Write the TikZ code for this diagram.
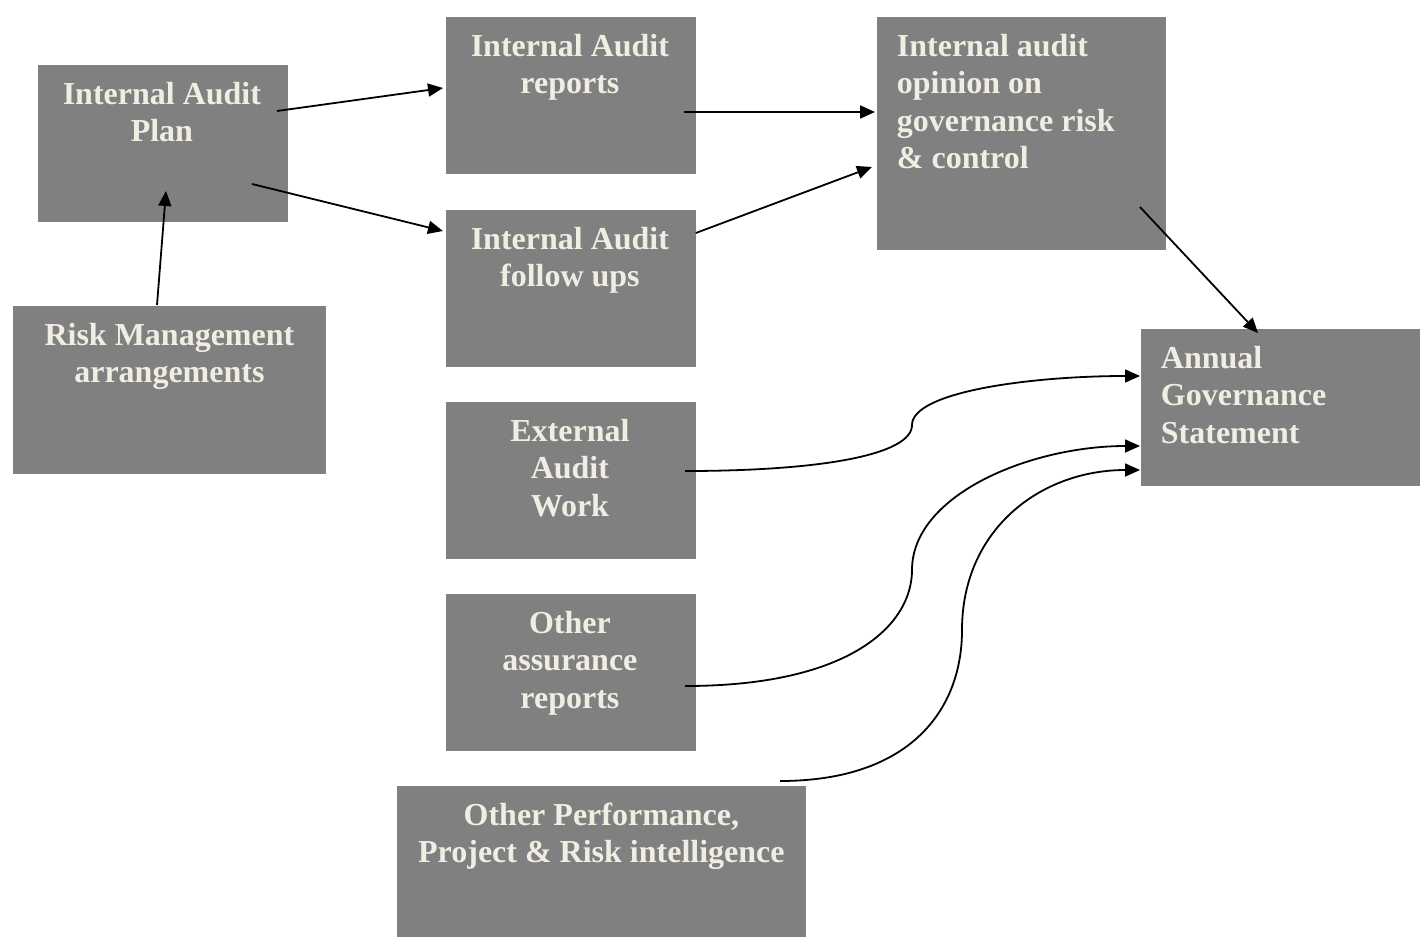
\documentclass[tikz,border=0pt]{standalone}
\usepackage{fontspec}
\setmainfont{Liberation Serif}
\usetikzlibrary{arrows.meta, calc}
\definecolor{cbox}{HTML}{808080}
\definecolor{ctext}{HTML}{F0EDE2}
\tikzset{
  every picture/.style={line width=1.8pt},
  box/.style={fill=cbox, inner sep=0pt, anchor=north west},
  label/.style={text=ctext, font=\bfseries\fontsize{32}{37.5}\selectfont, inner sep=0pt},
  arrow/.style={-{Triangle[length=15pt, width=13pt]}, draw=black, line width=1.8pt},
}

\begin{document}
\begin{tikzpicture}[x=1pt, y=-1pt,
    mid/.style={box, minimum width=250pt, minimum height=157pt}]
  \useasboundingbox (0,0) rectangle (1420,936);
  % boxes
  \node[box, minimum width=250pt, minimum height=157pt] (plan) at (37,64) {};
  \node[box, minimum width=313pt, minimum height=168pt] (risk) at (12,305) {};
  \foreach \n/\y in {reports/16, followups/209, external/401, assurance/593}
    \node[mid] (\n) at (445,\y) {};
  \node[box, minimum width=409pt, minimum height=151pt] (perf) at (396,785) {};
  \node[box, minimum width=289pt, minimum height=233pt] (opinion) at (876,16) {};
  \node[box, minimum width=280pt, minimum height=157pt] (annual) at (1140,328) {};
  % texts
  \node[label, align=center, anchor=north] (planT) at ($(plan.north)+(-1,17)$) {Internal Audit\\Plan};
  \node[label, align=center, anchor=north] (riskT) at ($(risk.north)+(0,17)$) {Risk Management\\arrangements};
  \node[label, align=center, anchor=north] (reportsT) at ($(reports.north)+(-1,17)$) {Internal Audit\\reports};
  \node[label, align=center, anchor=north] (followupsT) at ($(followups.north)+(-1,17)$) {Internal Audit\\follow ups};
  \node[label, align=center, anchor=north] (externalT) at ($(external.north)+(-1,17)$) {External\\Audit\\Work};
  \node[label, align=center, anchor=north] (assuranceT) at ($(assurance.north)+(-1,17)$) {Other\\assurance\\reports};
  \node[label, align=center, anchor=north] (perfT) at ($(perf.north)+(0,17)$) {Other Performance,\\Project \& Risk intelligence};
  \node[label, align=left, anchor=north west] (opinionT) at ($(opinion.north west)+(20,17)$) {Internal audit\\opinion on\\governance risk\\\& control};
  \node[label, align=left, anchor=north west] (annualT) at ($(annual.north west)+(20,17)$) {Annual\\Governance\\Statement};
  % straight connectors
  \draw[arrow] ($(plan.north west)+(240,47)$) -- ($(reports.north west)+(-2,72)$);
  \draw[arrow] ($(plan.north west)+(215,120)$) -- ($(followups.north west)+(-2,22)$);
  \draw[arrow] ($(risk.north west)+(145,0)$) -- ($(plan.north west)+(129,127)$);
  \draw[arrow] ($(reports.north west)+(239,96)$) -- ($(opinion.north west)+(-1,96)$);
  \draw[arrow] ($(followups.north east)+(-1,24)$) -- ($(opinion.north west)+(-4,151)$);
  \draw[arrow] ($(opinion.north west)+(264,191)$) -- ($(annual.north west)+(118,5)$);
  % curved connectors into the statement
  \draw[arrow] ($(external.north west)+(240,70)$) .. controls (820,471) and (912,455) .. (912,425)
    .. controls (912,392) and (1030,376) .. ($(annual.north west)+(0,48)$);
  \draw[arrow] ($(assurance.north west)+(240,93)$) .. controls (850,686) and (912,625) .. (912,570)
    .. controls (912,495) and (1030,446) .. ($(annual.north west)+(0,118)$);
  \draw[arrow] ($(perf.north west)+(384,-4)$) .. controls (910,781) and (962,710) .. (962,630)
    .. controls (962,530) and (1040,470) .. ($(annual.north west)+(0,142)$);
\end{tikzpicture}
\end{document}
